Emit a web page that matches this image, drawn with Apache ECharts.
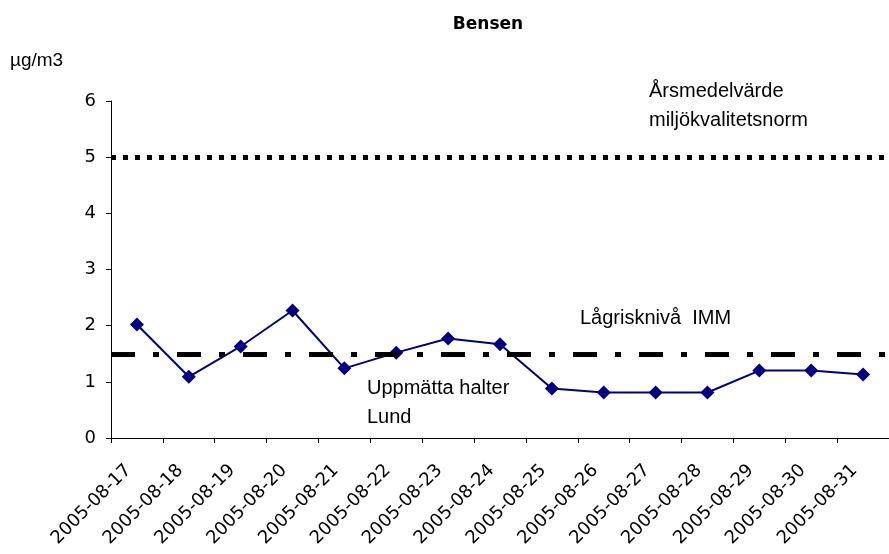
<!DOCTYPE html>
<html>
<head>
<meta charset="utf-8">
<script src="https://cdn.jsdelivr.net/npm/echarts@6/dist/echarts.min.js"></script>
<style>html,body{margin:0;padding:0;background:#fff}#c{width:889px;height:554px}</style>
</head>
<body>
<div id="c"></div>
<script>
var categories = ['2005-08-17','2005-08-18','2005-08-19','2005-08-20','2005-08-21','2005-08-22','2005-08-23','2005-08-24','2005-08-25','2005-08-26','2005-08-27','2005-08-28','2005-08-29','2005-08-30','2005-08-31'];
var measured = [2.02, 1.09, 1.63, 2.27, 1.24, 1.52, 1.77, 1.67, 0.88, 0.81, 0.81, 0.81, 1.20, 1.20, 1.13];
var annualNorm = 5;
var lowRiskIMM = 1.5;
var yTicks = [0, 1, 2, 3, 4, 5, 6];
var titleText = 'Bensen';
var unitText = 'µg/m3';
var normLabel = ['Årsmedelvärde', 'miljökvalitetsnorm'];
var imLabel = 'Lågrisknivå  IMM';
var measLabel = ['Uppmätta halter', 'Lund'];

var chart = echarts.init(document.getElementById('c'), null, {renderer: 'canvas'});
var annFont = '"Liberation Sans", Arial, sans-serif';
var tickFont = '"DejaVu Sans", sans-serif';
chart.setOption({
  animation: false,
  backgroundColor: '#ffffff',
  grid: {left: 111, right: -10, top: 101, bottom: 116, containLabel: false},
  xAxis: {
    type: 'category',
    data: categories,
    boundaryGap: true,
    axisLine: {show: true, lineStyle: {color: '#000', width: 1}},
    axisTick: {show: true, length: 5, lineStyle: {color: '#000'}},
    axisLabel: {rotate: 45, interval: 0, margin: 21, padding: [0, 12, 0, 0], color: '#000', fontSize: 18, fontFamily: tickFont},
    splitLine: {show: false}
  },
  yAxis: {
    type: 'value',
    min: yTicks[0],
    max: yTicks[yTicks.length - 1],
    interval: 1,
    axisLine: {show: true, lineStyle: {color: '#000', width: 1}},
    axisTick: {show: true, length: 5, lineStyle: {color: '#000'}},
    axisLabel: {margin: 15, color: '#000', fontSize: 18, fontFamily: tickFont},
    splitLine: {show: false}
  },
  series: [
    {
      type: 'line',
      z: 1,
      data: [],
      silent: true,
      markLine: {
        silent: true,
        symbol: ['none', 'none'],
        label: {show: false},
        animation: false,
        data: [
          {yAxis: annualNorm, lineStyle: {color: '#000', width: 5, type: [5, 7], cap: 'butt'}},
          {yAxis: lowRiskIMM, lineStyle: {color: '#000', width: 5, type: [24, 18, 6, 18], cap: 'butt'}}
        ]
      }
    },
    {
      type: 'line',
      z: 3,
      data: measured,
      symbol: 'diamond',
      symbolSize: 14,
      lineStyle: {color: '#000080', width: 2},
      itemStyle: {color: '#000080'}
    }
  ],
  graphic: [
    {type: 'text', x: 488, y: 25, style: {text: titleText, fill: '#000', font: 'bold 17px "DejaVu Sans", sans-serif', textAlign: 'center', textVerticalAlign: 'middle'}},
    {type: 'text', x: 10, y: 61, style: {text: unitText, fill: '#000', font: '19px ' + annFont, textAlign: 'left', textVerticalAlign: 'middle'}},
    {type: 'text', x: 649, y: 91, style: {text: normLabel[0], fill: '#000', font: '20px ' + annFont, textAlign: 'left', textVerticalAlign: 'middle'}},
    {type: 'text', x: 649, y: 120, style: {text: normLabel[1], fill: '#000', font: '20px ' + annFont, textAlign: 'left', textVerticalAlign: 'middle'}},
    {type: 'text', x: 580, y: 318, style: {text: imLabel, fill: '#000', font: '20px ' + annFont, textAlign: 'left', textVerticalAlign: 'middle'}},
    {type: 'text', x: 367, y: 388, style: {text: measLabel[0], fill: '#000', font: '20px ' + annFont, textAlign: 'left', textVerticalAlign: 'middle'}},
    {type: 'text', x: 367, y: 417, style: {text: measLabel[1], fill: '#000', font: '20px ' + annFont, textAlign: 'left', textVerticalAlign: 'middle'}}
  ]
});
</script>
</body>
</html>
